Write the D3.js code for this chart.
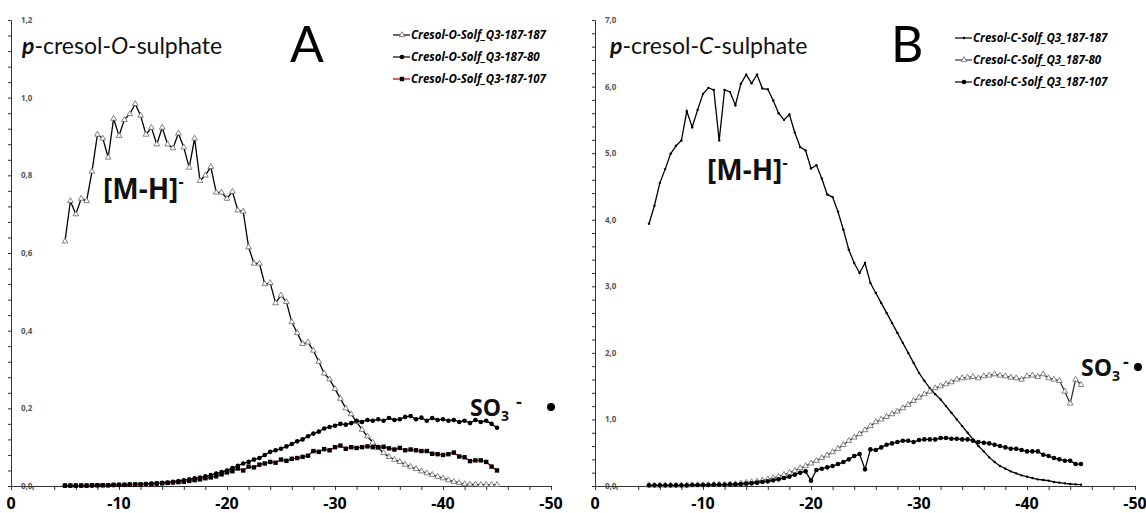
<!DOCTYPE html>
<html>
<head>
<meta charset="utf-8">
<title>cresol sulphate</title>
<script src="https://cdn.jsdelivr.net/npm/d3@7"></script>
<style>
body { margin: 0; background: #fff; }
.ylab { font-family: "Open Sans", sans-serif; font-size: 8px; font-weight: bold; fill: #555; }
.xlab { font-family: "Open Sans", sans-serif; font-size: 16px; font-weight: bold; fill: #000; }
.ttl { font-family: Lato, sans-serif; font-size: 23px; fill: #111; }
.big { font-family: Lato, sans-serif; font-size: 50px; fill: #000; }
.leg { font-family: "Open Sans", sans-serif; font-size: 11.5px; font-weight: bold; font-style: italic; fill: #000; }
.ion { font-family: "Open Sans", sans-serif; font-weight: bold; fill: #111; }
</style>
</head>
<body>
<script>
// retention (x) values, shared by all series
var xs = [-5,-5.5,-6,-6.5,-7,-7.5,-8,-8.5,-9,-9.5,-10,-10.5,-11,-11.5,-12,-12.5,-13,-13.5,-14,-14.5,
  -15,-15.5,-16,-16.5,-17,-17.5,-18,-18.5,-19,-19.5,-20,-20.5,-21,-21.5,-22,-22.5,-23,-23.5,-24,-24.5,
  -25,-25.5,-26,-26.5,-27,-27.5,-28,-28.5,-29,-29.5,-30,-30.5,-31,-31.5,-32,-32.5,-33,-33.5,-34,-34.5,
  -35,-35.5,-36,-36.5,-37,-37.5,-38,-38.5,-39,-39.5,-40,-40.5,-41,-41.5,-42,-42.5,-43,-43.5,-44,-44.5,-45];
var xTicks = [0, -10, -20, -30, -40, -50];

// panel A : p-cresol-O-sulphate
var yTicksA = [0, 0.2, 0.4, 0.6, 0.8, 1.0, 1.2];
var a187_187 = [0.63,0.734,0.70,0.74,0.734,0.81,0.905,0.895,0.846,0.946,0.902,0.943,0.958,0.984,0.954,0.905,0.923,0.88,0.923,0.88,
  0.87,0.908,0.872,0.82,0.895,0.786,0.80,0.822,0.756,0.756,0.74,0.758,0.71,0.707,0.615,0.573,0.573,0.52,0.523,0.471,
  0.491,0.474,0.422,0.394,0.366,0.37,0.349,0.32,0.29,0.275,0.25,0.225,0.2,0.185,0.165,0.145,0.128,0.112,0.098,0.085,
  0.075,0.068,0.062,0.055,0.05,0.044,0.038,0.033,0.029,0.024,0.02,0.015,0.011,0.008,0.005,0.004,0.004,0.003,0.003,0.003,0.003];
var a187_80 = [0.001,0.001,0.001,0.001,0.001,0.001,0.002,0.002,0.002,0.002,0.003,0.003,0.003,0.004,0.004,0.005,0.006,0.007,0.008,0.009,
  0.011,0.013,0.015,0.017,0.02,0.022,0.025,0.028,0.032,0.036,0.04,0.046,0.052,0.058,0.062,0.068,0.072,0.08,0.088,0.092,
  0.096,0.102,0.108,0.115,0.12,0.128,0.135,0.14,0.148,0.152,0.155,0.16,0.158,0.162,0.168,0.165,0.17,0.168,0.172,0.168,
  0.175,0.17,0.172,0.178,0.18,0.172,0.176,0.168,0.175,0.17,0.172,0.168,0.17,0.165,0.168,0.162,0.17,0.165,0.168,0.16,0.15];
var a187_107 = [0.001,0.001,0.001,0.001,0.001,0.002,0.002,0.002,0.002,0.003,0.003,0.003,0.004,0.004,0.004,0.005,0.005,0.006,0.007,0.008,
  0.009,0.01,0.011,0.013,0.015,0.017,0.02,0.022,0.025,0.03,0.035,0.038,0.045,0.04,0.05,0.048,0.055,0.058,0.062,0.06,
  0.068,0.065,0.07,0.072,0.075,0.078,0.09,0.088,0.095,0.092,0.1,0.104,0.096,0.1,0.098,0.1,0.102,0.1,0.1,0.101,
  0.097,0.094,0.098,0.092,0.094,0.092,0.09,0.09,0.083,0.082,0.08,0.082,0.086,0.076,0.074,0.064,0.066,0.066,0.062,0.05,0.04];

// panel B : p-cresol-C-sulphate
var yTicksB = [0, 1, 2, 3, 4, 5, 6, 7];
var b187_187 = [3.94,4.21,4.55,4.76,4.99,5.11,5.19,5.63,5.39,5.65,5.89,5.98,5.95,5.19,5.95,5.92,5.72,6.04,6.18,6.05,
  6.18,5.97,5.96,5.79,5.6,5.5,5.58,5.31,5.09,5.04,4.77,4.82,4.62,4.38,4.34,4.12,3.85,3.55,3.35,3.2,
  3.35,3.05,2.9,2.75,2.6,2.45,2.3,2.15,2.0,1.85,1.7,1.58,1.47,1.38,1.3,1.2,1.1,1.0,0.9,0.8,
  0.7,0.6,0.52,0.43,0.36,0.3,0.26,0.22,0.19,0.16,0.14,0.12,0.1,0.09,0.08,0.06,0.05,0.04,0.03,0.025,0.02];
var b187_80 = [0.01,0.01,0.01,0.01,0.01,0.01,0.01,0.01,0.015,0.015,0.015,0.02,0.02,0.02,0.02,0.025,0.03,0.04,0.05,0.06,
  0.07,0.085,0.1,0.12,0.14,0.17,0.2,0.23,0.27,0.3,0.34,0.38,0.42,0.46,0.51,0.56,0.62,0.68,0.73,0.78,
  0.84,0.9,0.96,1.0,1.04,1.08,1.12,1.17,1.22,1.28,1.33,1.38,1.42,1.47,1.5,1.53,1.56,1.6,1.62,1.63,
  1.64,1.62,1.65,1.66,1.68,1.66,1.65,1.63,1.62,1.6,1.65,1.66,1.64,1.68,1.62,1.6,1.58,1.42,1.24,1.6,1.52];
var b187_107 = [0.01,0.01,0.01,0.01,0.01,0.01,0.01,0.01,0.015,0.015,0.015,0.015,0.02,0.02,0.02,0.025,0.025,0.03,0.035,0.04,
  0.05,0.06,0.07,0.085,0.1,0.12,0.14,0.17,0.2,0.22,0.08,0.24,0.26,0.28,0.3,0.33,0.36,0.4,0.45,0.48,
  0.25,0.55,0.54,0.58,0.62,0.64,0.66,0.68,0.68,0.66,0.69,0.7,0.7,0.7,0.72,0.72,0.71,0.71,0.7,0.7,
  0.68,0.66,0.65,0.64,0.62,0.6,0.58,0.56,0.56,0.54,0.52,0.52,0.52,0.47,0.45,0.42,0.4,0.38,0.38,0.33,0.33];

var width = 1146, height = 513;
var svg = d3.select("body").append("svg")
  .attr("width", width).attr("height", height);

function marker(g, type, x, y) {
  if (type == "tri") {
    g.append("path").attr("d", d3.symbol(d3.symbolTriangle, 14)())
      .attr("transform", "translate(" + x + "," + y + ")")
      .attr("fill", "#fff").attr("stroke", "#666").attr("stroke-width", 0.8);
  } else if (type == "circ") {
    g.append("circle").attr("cx", x).attr("cy", y).attr("r", 2.3).attr("fill", "#000");
  } else if (type == "dot") {
    g.append("circle").attr("cx", x).attr("cy", y).attr("r", 1.2).attr("fill", "#000");
  } else if (type == "sq") {
    g.append("rect").attr("x", x - 2.2).attr("y", y - 2.2).attr("width", 4.4).attr("height", 4.4).attr("fill", "#000");
  }
}

function drawPanel(p) {
  var g = svg.append("g");
  var x = d3.scaleLinear().domain([0, -50]).range([p.x0, p.x0 + 540]);
  var y = d3.scaleLinear().domain([0, p.ymax]).range([486, 20]);

  // y axis with minor ticks
  var yAxis = d3.axisLeft(y).tickValues(d3.range(0, p.ymax + p.minor / 2, p.minor))
    .tickSize(3).tickFormat("");
  g.append("g").attr("transform", "translate(" + p.x0 + ",0)").call(yAxis)
    .call(function(s) { s.selectAll("path,line").attr("stroke", "#333").attr("stroke-width", 1); });
  g.selectAll(".ylab" + p.id).data(p.yTicks).enter().append("text")
    .attr("class", "ylab").attr("x", p.x0 + 10).attr("y", function(d) { return y(d) + 3; })
    .text(function(d) { return d3.format(".1f")(d).replace(".", ","); });

  // x axis
  var xAxis = d3.axisBottom(x).tickValues(d3.range(0, -51, -2)).tickSize(4).tickFormat("");
  g.append("g").attr("transform", "translate(0,486)").call(xAxis)
    .call(function(s) { s.selectAll("path,line").attr("stroke", "#333").attr("stroke-width", 1); });
  g.selectAll(".xlab" + p.id).data(xTicks).enter().append("text")
    .attr("class", "xlab").attr("text-anchor", "middle")
    .attr("x", function(d) { return x(d); }).attr("y", 509)
    .text(function(d) { return d; });

  // series
  var line = d3.line().x(function(d) { return x(d[0]); }).y(function(d) { return y(d[1]); });
  p.series.forEach(function(s) {
    var pts = xs.map(function(v, i) { return [v, s.vals[i]]; });
    g.append("path").datum(pts).attr("d", line).attr("fill", "none")
      .attr("stroke", s.color).attr("stroke-width", 1.3);
    pts.forEach(function(d) { marker(g, s.mark, x(d[0]), y(d[1])); });
  });

  // title
  var t = g.append("text").attr("class", "ttl").attr("x", p.x0 + p.ttlDx).attr("y", 54);
  t.append("tspan").attr("font-weight", "bold").attr("font-style", "italic").text("p");
  t.append("tspan").text("-cresol-");
  t.append("tspan").attr("font-style", "italic").text(p.letter);
  t.append("tspan").text("-sulphate");

  g.append("text").attr("class", "big").attr("x", p.bigX).attr("y", 62).text(p.big);

  // legend
  p.series.forEach(function(s, i) {
    var ly = p.legY + i * 22;
    g.append("line").attr("x1", p.legX).attr("x2", p.legX + 17).attr("y1", ly).attr("y2", ly)
      .attr("stroke", s.color).attr("stroke-width", 1.2);
    marker(g, s.mark, p.legX + 9, ly);
    g.append("text").attr("class", "leg").attr("x", p.legX + 18).attr("y", ly + 4).text(s.name);
  });

  // ion labels
  var m = g.append("text").attr("class", "ion").attr("font-size", 28).attr("x", p.mhX).attr("y", p.mhY);
  m.append("tspan").text("[M-H]");
  m.append("tspan").attr("font-size", 16).attr("dy", -12).text("-");

  var so = g.append("text").attr("class", "ion").attr("font-size", 23).attr("x", p.soX).attr("y", p.soY);
  so.append("tspan").text("SO");
  so.append("tspan").attr("font-size", 14).attr("dy", 5).text("3");
  so.append("tspan").attr("font-size", 18).attr("dx", p.dashDx).attr("dy", -13).text("-");
  g.append("circle").attr("cx", p.dotX).attr("cy", p.soY - 9).attr("r", 4).attr("fill", "#000");
}

drawPanel({
  id: "A", x0: 11, ymax: 1.2, minor: 0.04, yTicks: yTicksA, letter: "O", big: "A", bigX: 290, ttlDx: 11,
  legX: 393, legY: 35, mhX: 103, mhY: 199, soX: 470, soY: 416, dashDx: 7, dotX: 551,
  series: [
    { name: "Cresol-O-Solf_Q3-187-187", vals: a187_187, mark: "tri", color: "#000" },
    { name: "Cresol-O-Solf_Q3-187-80", vals: a187_80, mark: "circ", color: "#000" },
    { name: "Cresol-O-Solf_Q3-187-107", vals: a187_107, mark: "sq", color: "#b00000" }
  ]
});
drawPanel({
  id: "B", x0: 595, ymax: 7, minor: 0.2, yTicks: yTicksB, letter: "C", big: "B", bigX: 891, ttlDx: 15,
  legX: 955, legY: 38, mhX: 707, mhY: 180, soX: 1081, soY: 376, dashDx: 3, dotX: 1138,
  series: [
    { name: "Cresol-C-Solf_Q3_187-187", vals: b187_187, mark: "dot", color: "#000" },
    { name: "Cresol-C-Solf_Q3_187-80", vals: b187_80, mark: "tri", color: "#333" },
    { name: "Cresol-C-Solf_Q3_187-107", vals: b187_107, mark: "circ", color: "#000" }
  ]
});
</script>
</body>
</html>
